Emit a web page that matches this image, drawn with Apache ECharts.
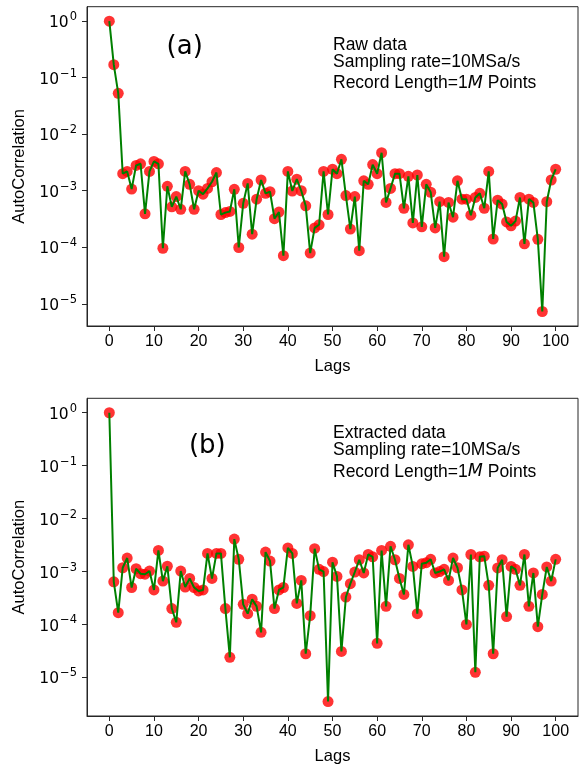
<!DOCTYPE html>
<html>
<head>
<meta charset="utf-8">
<script src="https://cdn.jsdelivr.net/npm/echarts@6/dist/echarts.min.js"></script>
<style>
html,body{margin:0;padding:0;background:#fff;}
#chart{width:580px;height:766px;}
</style>
</head>
<body>
<div id="chart"></div>
<script>
// ---- data ----
const lags = Array.from({length: 101}, (_, i) => i);
const xTicks = [0, 10, 20, 30, 40, 50, 60, 70, 80, 90, 100];
const yTicks = [1e-5, 1e-4, 1e-3, 1e-2, 1e-1, 1e0];

const rawAcf = [
  1.0, 0.17, 0.053, 0.0020, 0.0022, 0.00107, 0.0028, 0.0030, 0.00039, 0.0022,
  0.0033, 0.0030, 0.000096, 0.0012, 0.00052, 0.00079, 0.00047, 0.0022, 0.0013, 0.00047,
  0.0010, 0.00087, 0.0011, 0.00144, 0.0021, 0.00038, 0.00041, 0.00043, 0.00106, 0.000099,
  0.0006, 0.00135, 0.00017, 0.00071, 0.00155, 0.00090, 0.00096, 0.00032, 0.00042, 0.000071,
  0.0022, 0.00099, 0.0016, 0.0010, 0.00054, 0.000079, 0.00022, 0.00025, 0.0022, 0.00038,
  0.0024, 0.0020, 0.0036, 0.00082, 0.00021, 0.00079, 0.000087, 0.0015, 0.0013, 0.0029,
  0.0020, 0.0047, 0.00062, 0.0011, 0.0020, 0.0020, 0.00049, 0.0018, 0.00027, 0.0019,
  0.00023, 0.0013, 0.00094, 0.00022, 0.00064, 0.000068, 0.00062, 0.00034, 0.0015, 0.00071,
  0.00071, 0.00037, 0.00076, 0.00090, 0.00049, 0.0022, 0.00014, 0.00068, 0.00058, 0.00028,
  0.00024, 0.00029, 0.00076, 0.000115, 0.00071, 0.00062, 0.000138, 0.0000073, 0.00064, 0.00155,
  0.0024
];

const extractedAcf = [
  1.0, 0.00064, 0.000167, 0.00118, 0.0018, 0.0005, 0.00113, 0.00091, 0.00089, 0.00102,
  0.00045, 0.0025, 0.00066, 0.00126, 0.0002, 0.00011, 0.00102, 0.00051, 0.00074, 0.0005,
  0.00043, 0.00045, 0.0022, 0.00074, 0.0022, 0.0022, 0.0002, 0.000024, 0.0041, 0.0017,
  0.00024, 0.00016, 0.0003, 0.00022, 0.000071, 0.00233, 0.00158, 0.0002, 0.00045, 0.0005,
  0.0028, 0.0022, 0.00025, 0.00068, 0.000028, 0.000147, 0.0027, 0.0011, 0.0010, 0.0000035,
  0.0015, 0.00081, 0.000031, 0.00033, 0.00059, 0.00098, 0.00167, 0.00094, 0.0021, 0.0019,
  0.000044, 0.0025, 0.00022, 0.0030, 0.00167, 0.00074, 0.00037, 0.0032, 0.00125, 0.00016,
  0.0014, 0.00147, 0.0017, 0.00094, 0.0010, 0.0011, 0.00068, 0.0018, 0.00118, 0.00045,
  0.0001, 0.0021, 0.0000125, 0.0019, 0.00195, 0.00055, 0.000028, 0.00117, 0.00167, 0.000141,
  0.00125, 0.0011, 0.00055, 0.0021, 0.00022, 0.00094, 0.000091, 0.00037, 0.00122, 0.00066,
  0.0017
];

const panelLabels = ['(a)', '(b)'];
const noteTitles = ['Raw data', 'Extracted data'];
const noteRate = 'Sampling rate=10MSa/s';

// ---- helpers ----
function logRange(vals) {
  const lo = Math.log10(Math.min(...vals));
  const hi = Math.log10(Math.max(...vals));
  const m = 0.05 * (hi - lo);
  return [Math.pow(10, lo - m), Math.pow(10, hi + m)];
}
function yFmt(v) {
  const e = Math.round(Math.log10(v));
  const s = String(e).replace('-', '\u2212');
  return '{b|10}{s|' + s + '}';
}

const chart = echarts.init(document.getElementById('chart'), null, {renderer: 'canvas'});

const grids = [
  {left: 87, right: 2, top: 6.7, height: 319.3},
  {left: 87, right: 2, top: 398.3, height: 319.4}
];
const datasets = [rawAcf, extractedAcf];

const axisColor = '#262626';
const xAxes = grids.map((g, i) => ({
  type: 'value', gridIndex: i, min: -5, max: 105,
  name: 'Lags', nameLocation: 'middle', nameGap: 32,
  nameTextStyle: {fontFamily: 'Liberation Sans', fontSize: 16.5, color: '#000'},
  axisLine: {show: true, onZero: false, lineStyle: {color: axisColor, width: 1}},
  axisTick: {show: true, inside: false, length: 5, customValues: xTicks, lineStyle: {color: axisColor, width: 1}},
  axisLabel: {show: true, margin: 8, customValues: xTicks, fontFamily: 'Liberation Sans', fontSize: 16, color: '#000'},
  splitLine: {show: false}
}));
const yAxes = grids.map((g, i) => {
  const r = logRange(datasets[i]);
  return {
    type: 'log', logBase: 10, gridIndex: i, min: r[0], max: r[1],
    name: 'AutoCorrelation', nameLocation: 'middle', nameGap: 58, nameRotate: 90,
    nameTextStyle: {fontFamily: 'Liberation Sans', fontSize: 16.5, color: '#000'},
    axisLine: {show: true, onZero: false, lineStyle: {color: axisColor, width: 1}},
    axisTick: {show: true, inside: false, length: 5, customValues: yTicks, lineStyle: {color: axisColor, width: 1}},
    axisLabel: {
      show: true, margin: 10, customValues: yTicks, formatter: yFmt,
      rich: {
        b: {fontFamily: 'DejaVu Sans', fontSize: 15.5, color: '#000', lineHeight: 20, verticalAlign: 'bottom'},
        s: {fontFamily: 'DejaVu Sans', fontSize: 11.5, color: '#000', lineHeight: 20, verticalAlign: 'top', padding: [0, 0, 9, 1]}
      }
    },
    splitLine: {show: false}
  };
});

const series = [];
datasets.forEach((d, i) => {
  const pts = lags.map((l, k) => [l, d[k]]);
  series.push({
    type: 'scatter', xAxisIndex: i, yAxisIndex: i, data: pts,
    symbol: 'circle', symbolSize: 11, itemStyle: {color: '#ff0000'}, z: 2, silent: true
  });
  series.push({
    type: 'line', xAxisIndex: i, yAxisIndex: i, data: pts,
    showSymbol: false, lineStyle: {color: '#008000', width: 2}, z: 3, silent: true
  });
});

const noteTop = [[45, 61.7, 83.3], [433.3, 450, 471.7]];
const panelPos = [[184.7, 47.3], [207.3, 446.7]];
const graphic = [];
[0, 1].forEach(i => {
  graphic.push({type: 'text', x: panelPos[i][0], y: panelPos[i][1],
    style: {text: panelLabels[i], fontFamily: 'DejaVu Sans', fontSize: 26, fill: '#000', align: 'center', verticalAlign: 'middle'}});
  graphic.push({type: 'text', x: 333, y: noteTop[i][0],
    style: {text: noteTitles[i], fontFamily: 'Liberation Sans', fontSize: 17.5, fill: '#000', align: 'left', verticalAlign: 'middle'}});
  graphic.push({type: 'text', x: 333, y: noteTop[i][1],
    style: {text: noteRate, fontFamily: 'Liberation Sans', fontSize: 17.5, fill: '#000', align: 'left', verticalAlign: 'middle'}});
  graphic.push({type: 'text', x: 333, y: noteTop[i][2],
    style: {text: '{n|Record Length=1}{i|M}{n| Points}', align: 'left', verticalAlign: 'middle',
      rich: {
        n: {fontFamily: 'Liberation Sans', fontSize: 17.5, fill: '#000'},
        i: {fontFamily: 'DejaVu Sans', fontStyle: 'italic', fontSize: 17.5, fill: '#000'}
      }}});
});

chart.setOption({
  animation: false,
  backgroundColor: '#fff',
  grid: grids.map(g => Object.assign({show: true, borderColor: axisColor, borderWidth: 1, backgroundColor: 'transparent'}, g)),
  xAxis: xAxes,
  yAxis: yAxes,
  series: series,
  graphic: graphic
});
</script>
</body>
</html>
